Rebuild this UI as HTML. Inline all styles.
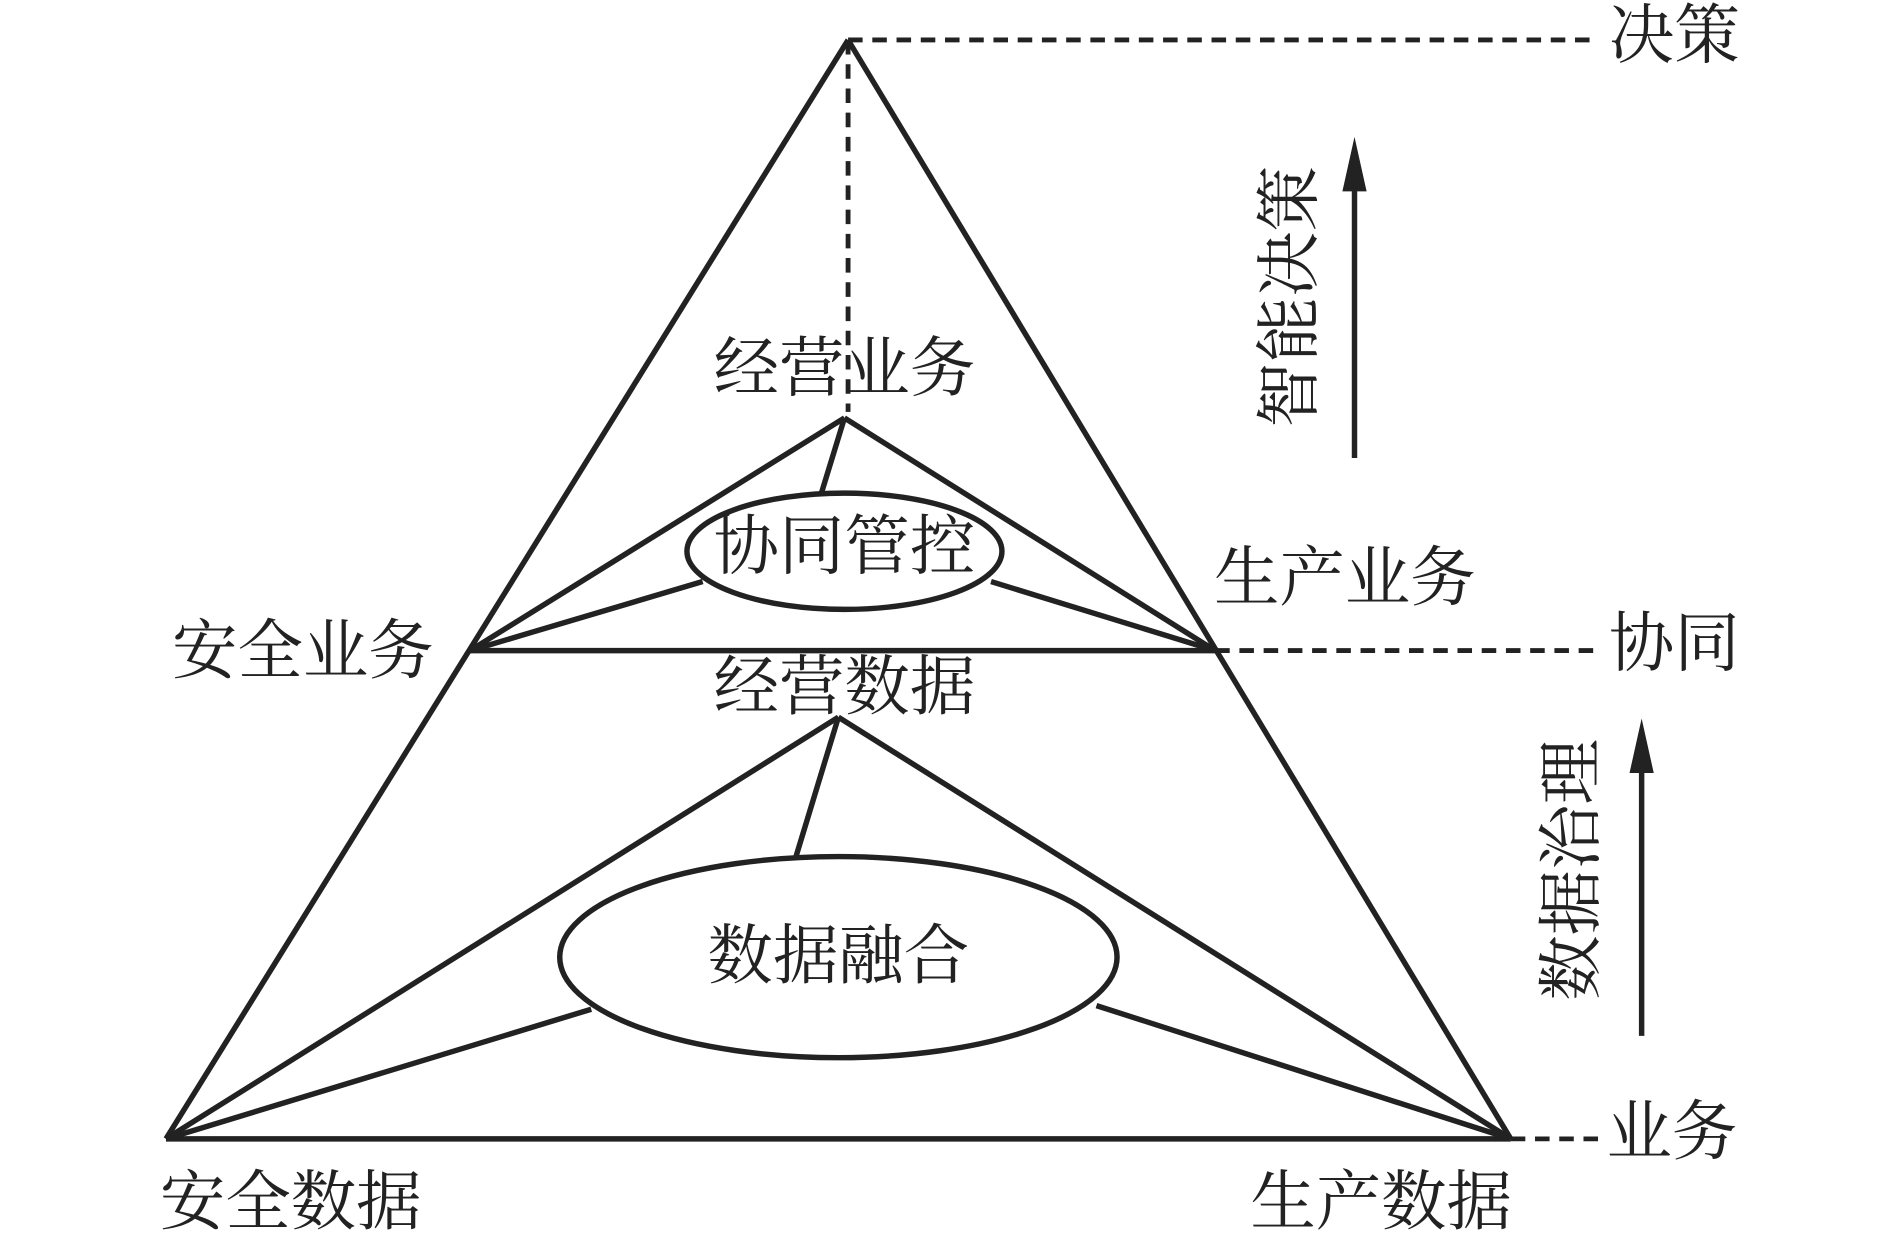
<!DOCTYPE html>
<html><head><meta charset="utf-8"><style>
html,body{margin:0;padding:0;background:#fff;}
svg{display:block;}
text{font-family:"Liberation Serif","Noto Serif CJK SC",serif;font-size:54px;fill:#222;}
</style></head><body>
<svg width="1890" height="1237" viewBox="0 0 1560 1021" preserveAspectRatio="none">
<g stroke="#222" stroke-width="4.5" fill="none">
<line x1="700" y1="33" x2="137" y2="940"/>
<line x1="700" y1="33" x2="1247" y2="940"/>
<line x1="137" y1="940" x2="1247" y2="940"/>
<line x1="388" y1="537" x2="1003" y2="537"/>
<line x1="697" y1="345" x2="388" y2="537"/>
<line x1="697" y1="345" x2="1003" y2="537"/>
<line x1="697" y1="345" x2="678" y2="407"/>
<line x1="580" y1="480" x2="388" y2="537"/>
<line x1="818" y1="480" x2="1003" y2="537"/>
<ellipse cx="697" cy="455" rx="130" ry="48"/>
<line x1="692" y1="592" x2="137" y2="940"/>
<line x1="692" y1="592" x2="1247" y2="940"/>
<line x1="692" y1="592" x2="657" y2="707"/>
<line x1="488" y1="833" x2="137" y2="940"/>
<line x1="905" y1="830" x2="1247" y2="940"/>
<ellipse cx="692" cy="790" rx="230" ry="83"/>
<g stroke-dasharray="12,8" stroke-width="4">
<line x1="700" y1="33" x2="1320" y2="33"/>
<line x1="700" y1="33" x2="700" y2="340"/>
<line x1="1003" y1="537" x2="1320" y2="537"/>
<line x1="1247" y1="940" x2="1320" y2="940"/>
</g>
<line x1="1118" y1="378" x2="1118" y2="140"/>
<line x1="1355" y1="855" x2="1355" y2="620"/>
</g>
<polygon points="1118,113 1108,158 1128,158" fill="#222"/>
<polygon points="1355,593 1345,638 1365,638" fill="#222"/>
<g text-anchor="middle" dominant-baseline="central">
<text x="1382" y="30">决策</text>
<text x="1382" y="532">协同</text>
<text x="1380" y="935">业务</text>
<text x="697" y="305">经营业务</text>
<text x="697" y="452">协同管控</text>
<text x="1110" y="478">生产业务</text>
<text x="250" y="538">安全业务</text>
<text x="697" y="568">经营数据</text>
<text x="692" y="790">数据融合</text>
<text x="240" y="993">安全数据</text>
<text x="1140" y="993">生产数据</text>
<text transform="translate(1065,245) rotate(-90)">智能决策</text>
<text transform="translate(1298,718) rotate(-90)">数据治理</text>
</g>
</svg>
</body></html>
